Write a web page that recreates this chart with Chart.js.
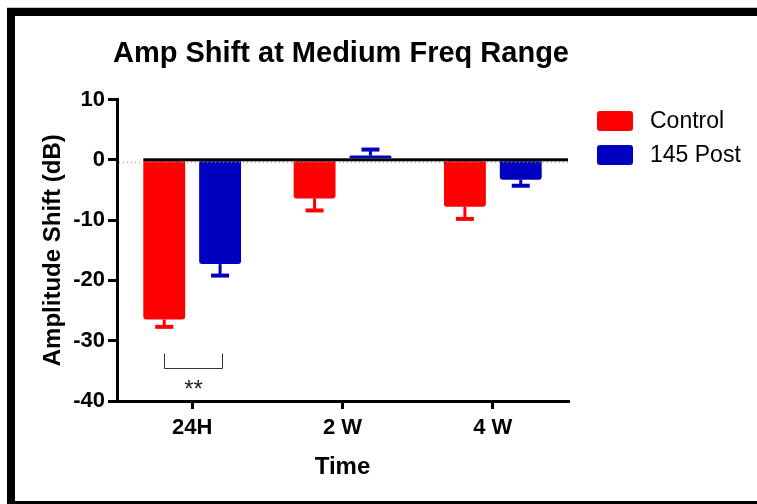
<!DOCTYPE html>
<html><head><meta charset="utf-8">
<script src="https://cdn.jsdelivr.net/npm/chart.js@4.4.1/dist/chart.umd.min.js"></script>
<style>html,body{margin:0;padding:0;background:#fff;overflow:hidden;}</style>
</head><body>
<canvas id="c" width="757" height="504"></canvas>
<script>
const categories = ['24H', '2 W', '4 W'];
const seriesNames = ['Control', '145 Post'];
const controlMean = [-26.5, -6.4, -7.8];
const controlErr = [1.2, 2.0, 2.0];
const postMean = [-17.3, 0.7, -3.3];
const postErr = [1.9, 1.0, 1.0];
const yMin = -40, yMax = 10, yStep = 10;
const titleText = 'Amp Shift at Medium Freq Range';
const xTitleText = 'Time';
const yTitleText = 'Amplitude Shift (dB)';
const sigLabel = '**';
const sigCategory = 0;
const sigBracketValues = [-32, -34.5];

const FONT = "'Liberation Sans', Arial, Helvetica, sans-serif";
const colors = ['#FF0000', '#0000C0'];

const deco = {
  id: 'deco',
  beforeDraw(chart) {
    const ctx = chart.ctx;
    ctx.save();
    ctx.fillStyle = '#fff';
    ctx.fillRect(0, 0, chart.width, chart.height);
    ctx.fillStyle = '#c4c4c4';
    ctx.fillRect(7, 7, chart.width, 1);
    ctx.fillStyle = '#000';
    ctx.fillRect(7, 8, chart.width, 8);
    ctx.fillRect(7, 8, 8, chart.height);
    ctx.fillRect(7, 501, chart.width, 3);
    ctx.restore();
  },
  afterDatasetsDraw(chart) {
    const ctx = chart.ctx, ys = chart.scales.y, area = chart.chartArea;
    const y0 = ys.getPixelForValue(0);
    ctx.save();
    // dotted baseline
    ctx.strokeStyle = '#8c8c8c';
    ctx.lineWidth = 1;
    ctx.setLineDash([1, 3]);
    ctx.beginPath();
    ctx.moveTo(area.left + 2, y0 + 2.5);
    ctx.lineTo(area.right, y0 + 2.5);
    ctx.stroke();
    ctx.setLineDash([]);
    // error bars
    [[controlMean, controlErr], [postMean, postErr]].forEach((pair, di) => {
      const meta = chart.getDatasetMeta(di);
      ctx.fillStyle = colors[di];
      meta.data.forEach((bar, i) => {
        const m = pair[0][i], e = pair[1][i];
        const end = m < 0 ? m - e : m + e;
        const yb = ys.getPixelForValue(m), ye = ys.getPixelForValue(end);
        ctx.fillRect(bar.x - 1.5, Math.min(yb, ye), 3, Math.abs(ye - yb));
        ctx.fillRect(bar.x - 9, ye - 2, 18, 4);
      });
    });
    // zero line
    const first = chart.getDatasetMeta(0).data[0];
    const zx = first.x - first.width / 2;
    ctx.fillStyle = '#000';
    ctx.fillRect(zx, y0 - 1.5, area.right - zx, 3);
    // significance bracket
    const b0 = chart.getDatasetMeta(0).data[sigCategory];
    const b1 = chart.getDatasetMeta(1).data[sigCategory];
    const bt = Math.round(ys.getPixelForValue(sigBracketValues[0])) + 0.5;
    const bb = Math.round(ys.getPixelForValue(sigBracketValues[1])) + 0.5;
    const bl = Math.round(b0.x) + 0.5, br = Math.round(b1.x + 2) + 0.5;
    ctx.strokeStyle = '#333';
    ctx.lineWidth = 1;
    ctx.beginPath();
    ctx.moveTo(bl, bt); ctx.lineTo(bl, bb); ctx.lineTo(br, bb); ctx.lineTo(br, bt);
    ctx.stroke();
    ctx.fillStyle = '#222';
    ctx.font = '24px ' + FONT;
    ctx.textAlign = 'center';
    ctx.textBaseline = 'alphabetic';
    ctx.fillText(sigLabel, (bl + br) / 2, 397);
    // legend
    ctx.textAlign = 'left';
    ctx.textBaseline = 'middle';
    ctx.font = '23px ' + FONT;
    seriesNames.forEach((name, i) => {
      const by = 111 + i * 34;
      ctx.fillStyle = colors[i];
      ctx.beginPath();
      ctx.roundRect(597, by, 36, 20, 3);
      ctx.fill();
      ctx.fillStyle = '#000';
      ctx.fillText(name, 650, by + 11);
    });
    // title
    ctx.fillStyle = '#000';
    ctx.textAlign = 'center';
    ctx.textBaseline = 'alphabetic';
    ctx.font = 'bold 29px ' + FONT;
    ctx.fillText(titleText, 341, 62);
    // x title
    ctx.font = 'bold 24px ' + FONT;
    ctx.fillText(xTitleText, (area.left + area.right) / 2, 474);
    // y title
    ctx.save();
    ctx.translate(53, (area.top + area.bottom) / 2);
    ctx.rotate(-Math.PI / 2);
    ctx.textBaseline = 'middle';
    ctx.font = 'bold 24px ' + FONT;
    ctx.fillText(yTitleText, 0, 0);
    ctx.restore();
    ctx.restore();
  }
};

const tickFont = { family: FONT, size: 22, weight: 'bold' };

new Chart(document.getElementById('c'), {
  type: 'bar',
  data: {
    labels: categories,
    datasets: [
      { label: seriesNames[0], data: controlMean, backgroundColor: colors[0], borderRadius: 3, borderSkipped: 'start', categoryPercentage: 0.743, barPercentage: 0.75 },
      { label: seriesNames[1], data: postMean, backgroundColor: colors[1], borderRadius: 3, borderSkipped: 'start', categoryPercentage: 0.743, barPercentage: 0.75 }
    ]
  },
  options: {
    responsive: false,
    animation: false,
    devicePixelRatio: 1,
    layout: { padding: { left: 0, top: 99.5, right: 189, bottom: 0 } },
    plugins: { legend: { display: false }, title: { display: false }, tooltip: { enabled: false } },
    scales: {
      x: {
        grid: { display: true, drawOnChartArea: false, drawTicks: true, tickLength: 8, offset: false, color: '#000', lineWidth: 3 },
        border: { display: true, color: '#000', width: 3 },
        ticks: { color: '#000', font: tickFont, padding: 6, maxRotation: 0 },
        afterFit(s) { s.height = 103; }
      },
      y: {
        min: yMin, max: yMax,
        ticks: { stepSize: yStep, color: '#000', font: tickFont, padding: 3 },
        grid: { display: true, drawOnChartArea: false, drawTicks: true, tickLength: 9, color: '#000', lineWidth: 3 },
        border: { display: true, color: '#000', width: 3 },
        afterFit(s) { s.width = 117; }
      }
    }
  },
  plugins: [deco]
});
</script>
</body></html>
